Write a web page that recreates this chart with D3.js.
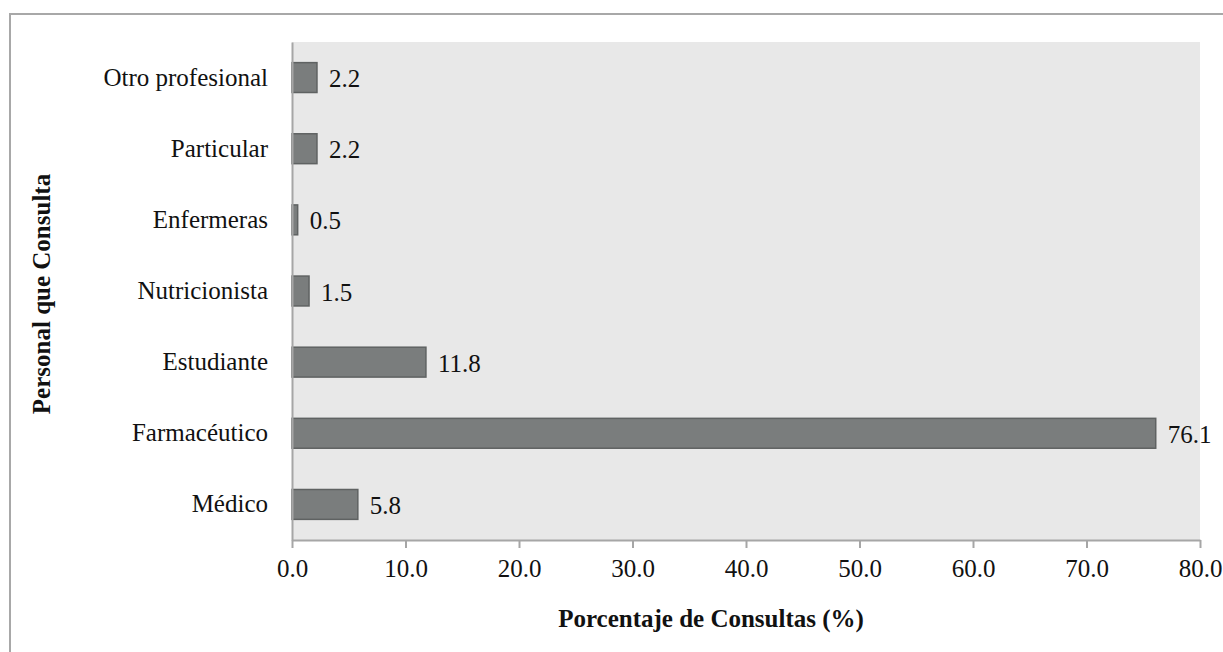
<!DOCTYPE html>
<html>
<head>
<meta charset="utf-8">
<script src="https://cdn.jsdelivr.net/npm/d3@7"></script>
<style>
  html, body { margin: 0; padding: 0; background: #ffffff; }
  svg { display: block; }
  text { font-family: "Liberation Serif", "Times New Roman", serif; fill: #111; }
</style>
</head>
<body>
<svg id="chart" width="1223" height="652"></svg>
<script>
// Categories listed bottom to top
const categories = ["Médico", "Farmacéutico", "Estudiante", "Nutricionista", "Enfermeras", "Particular", "Otro profesional"];
const values = [5.8, 76.1, 11.8, 1.5, 0.5, 2.2, 2.2];
const xTicks = [0, 10, 20, 30, 40, 50, 60, 70, 80];
const xTitle = "Porcentaje de Consultas (%)";
const yTitle = "Personal que Consulta";

const svg = d3.select("#chart");
const W = 1223, H = 652;
const plot = { left: 292, right: 1200, top: 42, bottom: 540 };
const serif = "'Liberation Serif', 'Times New Roman', serif";
const fs = 25;

// Outer frame
svg.append("rect")
  .attr("x", 10).attr("y", 14)
  .attr("width", W + 20).attr("height", H + 20)
  .attr("fill", "none").attr("stroke", "#a8a8a8").attr("stroke-width", 2);

// Plot background
svg.append("rect")
  .attr("x", plot.left).attr("y", plot.top)
  .attr("width", plot.right - plot.left).attr("height", plot.bottom - plot.top)
  .attr("fill", "#e8e8e8");

const x = d3.scaleLinear().domain([0, 80]).range([plot.left, plot.right]);
const y = d3.scaleBand().domain(categories)
  .range([plot.bottom, plot.top])
  .paddingInner(0.58).paddingOuter(0.29);

const data = categories.map((c, i) => ({ c, v: values[i] }));

// Bars
svg.append("g").selectAll("rect").data(data).join("rect")
  .attr("x", x(0))
  .attr("y", d => y(d.c))
  .attr("width", d => x(d.v) - x(0))
  .attr("height", y.bandwidth())
  .attr("fill", "#7a7d7d")
  .attr("stroke", "#5f6262")
  .attr("stroke-width", 1.5);

// Value labels
svg.append("g").selectAll("text").data(data).join("text")
  .attr("x", d => x(d.v) + 12)
  .attr("y", d => y(d.c) + y.bandwidth() / 2)
  .attr("dy", "0.38em")
  .attr("font-size", fs)
  .text(d => d.v.toFixed(1));

// X axis
const xAxis = svg.append("g")
  .attr("transform", `translate(0,${plot.bottom})`)
  .call(d3.axisBottom(x).tickValues(xTicks).tickFormat(d3.format(".1f")).tickSize(8).tickSizeOuter(0).tickPadding(11));
xAxis.attr("font-family", serif).attr("font-size", fs);
xAxis.select(".domain").attr("stroke", "#a6a6a6").attr("stroke-width", 2);
xAxis.selectAll(".tick line").attr("stroke", "#a6a6a6").attr("stroke-width", 2);
xAxis.selectAll(".tick text").attr("fill", "#111");

// Y axis
const yAxis = svg.append("g")
  .attr("transform", `translate(${plot.left},0)`)
  .call(d3.axisLeft(y).tickSize(0).tickPadding(24));
yAxis.attr("font-family", serif).attr("font-size", fs);
yAxis.select(".domain").attr("stroke", "#a6a6a6").attr("stroke-width", 2);
yAxis.selectAll(".tick text").attr("fill", "#111");

// Axis titles
svg.append("text")
  .attr("x", 711).attr("y", 627)
  .attr("text-anchor", "middle")
  .attr("font-size", fs).attr("font-weight", "bold")
  .text(xTitle);

svg.append("text")
  .attr("transform", "translate(50,294) rotate(-90)")
  .attr("text-anchor", "middle")
  .attr("font-size", fs).attr("font-weight", "bold")
  .text(yTitle);
</script>
</body>
</html>
